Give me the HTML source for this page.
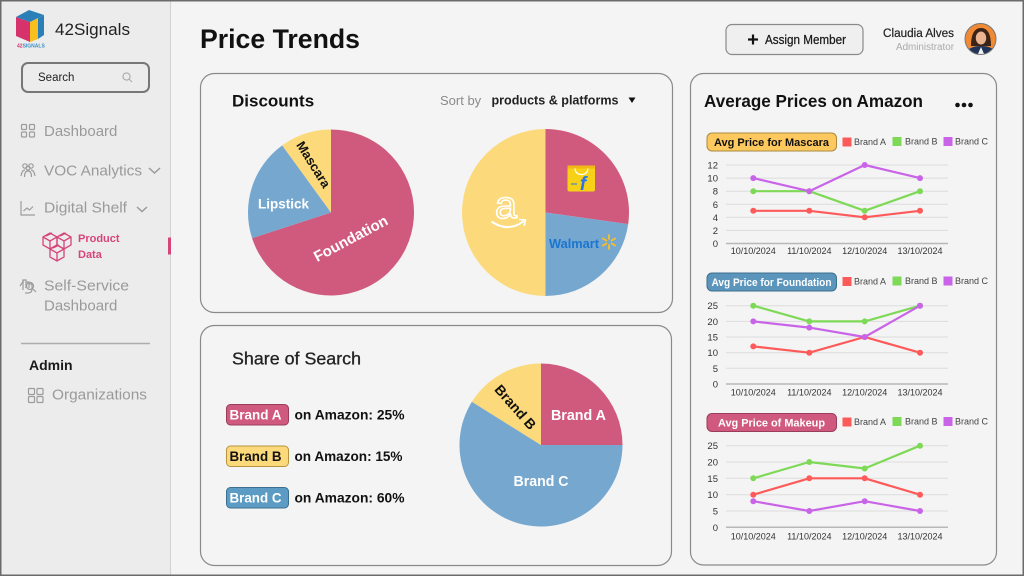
<!DOCTYPE html>
<html><head><meta charset="utf-8"><style>
html,body{margin:0;padding:0;background:#f4f4f4;}
svg{display:block;font-family:"Liberation Sans",sans-serif;}
</style></head><body>
<svg width="1024" height="576" viewBox="0 0 1024 576" xmlns="http://www.w3.org/2000/svg">
<rect x="0" y="0" width="1024" height="576" fill="#f4f4f4"/>
<!-- sidebar -->
<rect x="0" y="0" width="170" height="576" fill="#ececec"/>
<line x1="170.5" y1="0" x2="170.5" y2="576" stroke="#d2d2d2" stroke-width="1"/>
<!-- logo -->
<polygon points="16,17 30,22 30,42 16,36" fill="#d6336c"/>
<polygon points="30,22 38,18 38,39 30,42" fill="#f9bf1e"/>
<polygon points="16,17 29,10 44,15 30,22" fill="#2b7fb8"/>
<polygon points="38,18 44,15 44,35 38,39" fill="#2b7fb8"/>
<text x="17" y="47.5" font-size="5" font-weight="bold" fill="#d6336c">42<tspan fill="#3b8fc6">SIGNALS</tspan></text>
<text x="55" y="35" font-size="17" fill="#222" textLength="75" lengthAdjust="spacingAndGlyphs">42Signals</text>
<!-- search -->
<rect x="22" y="63" width="127" height="29" rx="6" fill="#ececec" stroke="#777" stroke-width="2"/>
<text x="38" y="81" font-size="11.5" fill="#222">Search</text>
<circle cx="126.5" cy="76.5" r="3.6" fill="none" stroke="#aaa" stroke-width="1.1"/>
<line x1="129" y1="79" x2="132" y2="82" stroke="#aaa" stroke-width="1.1"/>
<!-- nav -->
<g fill="none" stroke="#9c9c9c" stroke-width="1.2">
<rect x="21.5" y="124.5" width="5" height="5" rx="1"/><rect x="29.5" y="124.5" width="5" height="5" rx="1"/>
<rect x="21.5" y="132" width="5" height="5" rx="1"/><rect x="29.5" y="132" width="5" height="5" rx="1"/>
<circle cx="25" cy="166" r="2.2"/><circle cx="31" cy="166" r="2.2"/><circle cx="28" cy="168" r="2"/>
<path d="M21,176 q1,-6 4,-6 M35,176 q-1,-6 -4,-6 M24.5,177 q0,-6 3.5,-6 q3.5,0 3.5,6"/>
<path d="M21,201 L21,215 L35,215"/>
<path d="M23.5,211 L27,208 L29.5,210 L33,206.5"/>
<rect x="28.5" y="388.5" width="6" height="6" rx="1"/><rect x="37" y="388.5" width="6" height="6" rx="1"/>
<rect x="28.5" y="396.5" width="6" height="6" rx="1"/><rect x="37" y="396.5" width="6" height="6" rx="1"/>
<path d="M20,286 l4,-6 M23,290 l0,-10 l3,0 l0,8 M26,282 l3,0 l0,6 M29,284 l3,0 l0,5 q0,4 -4,4 l-3,0"/>
<circle cx="30" cy="286" r="3.5"/><line x1="32.5" y1="288.5" x2="36" y2="292"/>
</g>
<text x="44" y="136" font-size="15" fill="#9a9a9a">Dashboard</text>
<text x="44" y="175.5" font-size="15" fill="#9a9a9a" textLength="98" lengthAdjust="spacingAndGlyphs">VOC Analytics</text>
<path d="M149,168 L154.5,173 L160,168" fill="none" stroke="#9a9a9a" stroke-width="1.5"/>
<text x="44" y="212.5" font-size="15" fill="#9a9a9a" textLength="83" lengthAdjust="spacingAndGlyphs">Digital Shelf</text>
<path d="M137,207 L142,211.5 L147,207" fill="none" stroke="#9a9a9a" stroke-width="1.5"/>
<!-- product data icon -->
<g fill="none" stroke="#d6457a" stroke-width="1.3">
<path d="M43,237 l7,-4 l7,4 l0,8 l-7,4 l-7,-4 z M43,237 l7,4 l7,-4 M50,241 l0,8"/>
<path d="M57,237 l7,-4 l7,4 l0,8 l-7,4 l-7,-4 z M57,237 l7,4 l7,-4 M64,241 l0,8"/>
<path d="M50,249 l7,-4 l7,4 l0,8 l-7,4 l-7,-4 z M50,249 l7,4 l7,-4 M57,253 l0,8"/>
<path d="M46,236 l6,-3 M60,236 l6,-3 M53,248 l6,-3"/>
</g>
<text x="78" y="242" font-size="11" font-weight="bold" fill="#d6457a">Product</text>
<text x="78" y="258" font-size="11" font-weight="bold" fill="#d6457a">Data</text>
<rect x="168" y="237.5" width="3" height="17" fill="#d6457a"/>
<text x="44" y="290.5" font-size="15" fill="#9a9a9a" textLength="85" lengthAdjust="spacingAndGlyphs">Self-Service</text>
<text x="44" y="310.5" font-size="15" fill="#9a9a9a">Dashboard</text>
<line x1="21" y1="343.5" x2="150" y2="343.5" stroke="#adadad" stroke-width="1.5"/>
<text x="29" y="370" font-size="14" font-weight="bold" fill="#1a1a1a">Admin</text>
<text x="52" y="399.5" font-size="15" fill="#9a9a9a" textLength="95" lengthAdjust="spacingAndGlyphs">Organizations</text>

<!-- header -->
<text x="200" y="48" font-size="26.5" font-weight="bold" fill="#111" textLength="160" lengthAdjust="spacingAndGlyphs">Price Trends</text>
<rect x="726" y="24.5" width="137" height="30" rx="6" fill="#efefef" stroke="#8a8a8a" stroke-width="1.2"/>
<line x1="748" y1="39.5" x2="758" y2="39.5" stroke="#111" stroke-width="2.2"/>
<line x1="753" y1="34.5" x2="753" y2="44.5" stroke="#111" stroke-width="2.2"/>
<text x="765" y="44" font-size="12.5" fill="#1a1a1a" stroke="#1a1a1a" stroke-width="0.25" textLength="81" lengthAdjust="spacingAndGlyphs">Assign Member</text>
<text x="954" y="37" font-size="11.5" fill="#222" stroke="#222" stroke-width="0.2" text-anchor="end" textLength="71" lengthAdjust="spacingAndGlyphs">Claudia Alves</text>
<text x="954" y="50" font-size="10" fill="#aaa" text-anchor="end" textLength="58" lengthAdjust="spacingAndGlyphs">Administrator</text>
<defs><clipPath id="av"><circle cx="980.5" cy="39" r="15.5"/></clipPath></defs>
<g clip-path="url(#av)">
<rect x="964" y="22" width="34" height="34" fill="#f08a35"/>
<path d="M971,46 q0,-18 10,-18 q10,0 10,18 z" fill="#3a2418"/>
<ellipse cx="981" cy="38" rx="5.2" ry="6.5" fill="#e9b48f"/>
<path d="M965,56 q2,-10 16,-10 q14,0 16,10 z" fill="#1f3558"/>
<path d="M977,56 l4,-9 l4,9 z" fill="#f2f2f2"/>
</g>
<circle cx="980.5" cy="39" r="15.5" fill="none" stroke="#777" stroke-width="1"/>

<!-- Discounts card -->
<rect x="200.5" y="73.5" width="472" height="239" rx="14" fill="#f4f4f4" stroke="#8a8a8a" stroke-width="1.2"/>
<text x="232" y="106.5" font-size="17" font-weight="bold" fill="#111">Discounts</text>
<text x="440" y="105" font-size="13" fill="#8a8a8a">Sort by</text>
<text x="491.5" y="104.5" font-size="13" font-weight="bold" fill="#222" textLength="127" lengthAdjust="spacingAndGlyphs">products &amp; platforms</text>
<polygon points="628.5,97.5 635.5,97.5 632,103" fill="#111"/>
<!-- pie 1 -->
<path d="M331,212.5 L331,129.5 A83,83 0 1 1 252.06,238.15 Z" fill="#d05a7e"/>
<path d="M331,212.5 L252.06,238.15 A83,83 0 0 1 282.21,145.35 Z" fill="#76a7cf"/>
<path d="M331,212.5 L282.21,145.35 A83,83 0 0 1 331,129.5 Z" fill="#fcd97a"/>
<text x="258" y="208.5" font-size="13.5" font-weight="bold" fill="#fff" textLength="51" lengthAdjust="spacingAndGlyphs">Lipstick</text>
<text x="0" y="0" font-size="15" font-weight="bold" fill="#fff" text-anchor="middle" dominant-baseline="central" transform="translate(351,239) rotate(-28)">Foundation</text>
<text x="0" y="0" font-size="13" font-weight="bold" fill="#111" text-anchor="middle" dominant-baseline="central" transform="translate(313.5,164.5) rotate(58)">Mascara</text>
<!-- pie 2 -->
<path d="M545.5,212.5 L545.5,129 A83.5,83.5 0 0 1 628.19,224.12 Z" fill="#d05a7e"/>
<path d="M545.5,212.5 L628.19,224.12 A83.5,83.5 0 0 1 545.5,296 Z" fill="#76a7cf"/>
<path d="M545.5,212.5 L545.5,296 A83.5,83.5 0 0 1 545.5,129 Z" fill="#fcd97a"/>
<text x="506" y="218" font-size="38" fill="none" stroke="#fff" stroke-width="1.6" text-anchor="middle" textLength="22" lengthAdjust="spacingAndGlyphs">a</text>
<path d="M491.5,221.5 Q508,233 524,221" fill="none" stroke="#fff" stroke-width="2"/>
<path d="M519,219.5 L525.5,220 L524,226" fill="none" stroke="#fff" stroke-width="1.6"/>
<!-- flipkart -->
<rect x="567.5" y="167.5" width="27.5" height="24" rx="2" fill="#f7d118"/>
<path d="M575,167.5 q0,7 6.5,7 q6.5,0 6.5,-7" fill="none" stroke="#fff" stroke-width="1.2"/>
<rect x="567.5" y="165.5" width="27.5" height="3" fill="#f0b914"/>
<text x="583" y="190" font-size="19" font-weight="bold" font-style="italic" fill="#2874f0" text-anchor="middle">f</text>
<line x1="571" y1="184" x2="577" y2="184" stroke="#2874f0" stroke-width="1"/>
<!-- walmart -->
<text x="549" y="248" font-size="13" font-weight="bold" fill="#1a75cf" textLength="50" lengthAdjust="spacingAndGlyphs">Walmart</text>
<g stroke="#fbbf24" stroke-width="1.8" stroke-linecap="round">
<line x1="609" y1="239" x2="609" y2="235"/><line x1="609" y1="245" x2="609" y2="249"/>
<line x1="606.4" y1="240.5" x2="602.9" y2="238.5"/><line x1="611.6" y1="240.5" x2="615.1" y2="238.5"/>
<line x1="606.4" y1="243.5" x2="602.9" y2="245.5"/><line x1="611.6" y1="243.5" x2="615.1" y2="245.5"/>
</g>

<!-- Share of Search card -->
<rect x="200.5" y="325.5" width="471" height="240" rx="14" fill="#f4f4f4" stroke="#8a8a8a" stroke-width="1.2"/>
<text x="232" y="364.5" font-size="17.5" fill="#222" stroke="#222" stroke-width="0.3" textLength="129" lengthAdjust="spacingAndGlyphs">Share of Search</text>
<rect x="226.5" y="404.5" width="62" height="20.5" rx="4" fill="#d0597f" stroke="#9a3d5c" stroke-width="1"/>
<text x="229.5" y="419.5" font-size="13.5" font-weight="bold" fill="#fff" textLength="52" lengthAdjust="spacingAndGlyphs">Brand A</text>
<text x="294.5" y="419.5" font-size="14" font-weight="bold" fill="#111" textLength="110" lengthAdjust="spacingAndGlyphs">on Amazon: 25%</text>
<rect x="226.5" y="446" width="62" height="20.5" rx="4" fill="#fcd97a" stroke="#b59440" stroke-width="1"/>
<text x="229.5" y="461" font-size="13.5" font-weight="bold" fill="#111" textLength="52" lengthAdjust="spacingAndGlyphs">Brand B</text>
<text x="294.5" y="461" font-size="14" font-weight="bold" fill="#111" textLength="108" lengthAdjust="spacingAndGlyphs">on Amazon: 15%</text>
<rect x="226.5" y="487.5" width="62" height="20.5" rx="4" fill="#5c9bc3" stroke="#3c6f8f" stroke-width="1"/>
<text x="229.5" y="502.5" font-size="13.5" font-weight="bold" fill="#fff" textLength="52" lengthAdjust="spacingAndGlyphs">Brand C</text>
<text x="294.5" y="502.5" font-size="14" font-weight="bold" fill="#111" textLength="110" lengthAdjust="spacingAndGlyphs">on Amazon: 60%</text>
<!-- pie 3 -->
<path d="M541,445 L541,363.5 A81.5,81.5 0 0 1 622.5,445 Z" fill="#d05a7e"/>
<path d="M541,445 L622.5,445 A81.5,81.5 0 1 1 471.89,401.81 Z" fill="#76a7cf"/>
<path d="M541,445 L471.89,401.81 A81.5,81.5 0 0 1 541,363.5 Z" fill="#fcd97a"/>
<text x="578.5" y="416" font-size="14.5" font-weight="bold" fill="#fff" text-anchor="middle" dominant-baseline="central" textLength="55" lengthAdjust="spacingAndGlyphs">Brand A</text>
<text x="541" y="482" font-size="14.5" font-weight="bold" fill="#fff" text-anchor="middle" dominant-baseline="central" textLength="55" lengthAdjust="spacingAndGlyphs">Brand C</text>
<text x="0" y="0" font-size="14" font-weight="bold" fill="#111" text-anchor="middle" dominant-baseline="central" transform="translate(515.5,407) rotate(48.5)">Brand B</text>

<!-- Right card -->
<rect x="690.5" y="73.5" width="306" height="491.5" rx="13" fill="#f4f4f4" stroke="#8a8a8a" stroke-width="1.2"/>
<text x="704" y="107" font-size="17.5" font-weight="bold" fill="#111" textLength="219" lengthAdjust="spacingAndGlyphs">Average Prices on Amazon</text>
<circle cx="957.5" cy="105" r="2.3" fill="#111"/><circle cx="964" cy="105" r="2.3" fill="#111"/><circle cx="970.5" cy="105" r="2.3" fill="#111"/>

<g font-size="9" fill="#444">
<rect x="842.5" y="137.5" width="9" height="9" fill="#ff5a5a"/><text x="854" y="145">Brand A</text>
<rect x="892.5" y="137" width="9" height="9" fill="#7ed957"/><text x="905" y="144.5">Brand B</text>
<rect x="943.5" y="137" width="9" height="9" fill="#c964e8"/><text x="955" y="144.5">Brand C</text>
<rect x="842.5" y="277" width="9" height="9" fill="#ff5a5a"/><text x="854" y="284.5">Brand A</text>
<rect x="892.5" y="276.5" width="9" height="9" fill="#7ed957"/><text x="905" y="284">Brand B</text>
<rect x="943.5" y="276.5" width="9" height="9" fill="#c964e8"/><text x="955" y="284">Brand C</text>
<rect x="842.5" y="417.5" width="9" height="9" fill="#ff5a5a"/><text x="854" y="425">Brand A</text>
<rect x="892.5" y="417" width="9" height="9" fill="#7ed957"/><text x="905" y="424.5">Brand B</text>
<rect x="943.5" y="417" width="9" height="9" fill="#c964e8"/><text x="955" y="424.5">Brand C</text>
</g>
<!-- badges -->
<rect x="707" y="133" width="129.5" height="18" rx="5" fill="#fdc95e" stroke="#a88a40" stroke-width="1"/>
<text x="771.5" y="146" font-size="11" font-weight="bold" fill="#111" text-anchor="middle" textLength="115" lengthAdjust="spacingAndGlyphs">Avg Price for Mascara</text>
<rect x="707" y="273" width="129.5" height="18" rx="5" fill="#5b95bb" stroke="#3c6f8f" stroke-width="1"/>
<text x="771.5" y="286" font-size="11" font-weight="bold" fill="#fff" text-anchor="middle" textLength="120" lengthAdjust="spacingAndGlyphs">Avg Price for Foundation</text>
<rect x="707" y="413.5" width="129.5" height="18" rx="5" fill="#d05a7f" stroke="#9a3d5c" stroke-width="1"/>
<text x="771.5" y="426.5" font-size="11" font-weight="bold" fill="#fff" text-anchor="middle" textLength="107" lengthAdjust="spacingAndGlyphs">Avg Price of Makeup</text>

<!-- gridlines -->
<g stroke="#dcdcdc" stroke-width="1">
<line x1="726" y1="165" x2="948" y2="165"/><line x1="726" y1="178.1" x2="948" y2="178.1"/><line x1="726" y1="191.2" x2="948" y2="191.2"/><line x1="726" y1="204.3" x2="948" y2="204.3"/><line x1="726" y1="217.3" x2="948" y2="217.3"/><line x1="726" y1="230.4" x2="948" y2="230.4"/>
<line x1="726" y1="305.7" x2="948" y2="305.7"/><line x1="726" y1="321.4" x2="948" y2="321.4"/><line x1="726" y1="337" x2="948" y2="337"/><line x1="726" y1="352.7" x2="948" y2="352.7"/><line x1="726" y1="368.3" x2="948" y2="368.3"/>
<line x1="726" y1="445.7" x2="948" y2="445.7"/><line x1="726" y1="462" x2="948" y2="462"/><line x1="726" y1="478.3" x2="948" y2="478.3"/><line x1="726" y1="494.7" x2="948" y2="494.7"/><line x1="726" y1="511" x2="948" y2="511"/>
</g>
<g stroke="#b8b8b8" stroke-width="1.5">
<line x1="726" y1="243.5" x2="948" y2="243.5"/><line x1="726" y1="384" x2="948" y2="384"/><line x1="726" y1="527.3" x2="948" y2="527.3"/>
</g>
<!-- y labels -->
<g font-size="9.5" fill="#333" text-anchor="end">
<text x="718" y="168.5">12</text><text x="718" y="181.6">10</text><text x="718" y="194.7">8</text><text x="718" y="207.8">6</text><text x="718" y="220.8">4</text><text x="718" y="233.9">2</text><text x="718" y="247">0</text>
<text x="718" y="309.2">25</text><text x="718" y="324.9">20</text><text x="718" y="340.5">15</text><text x="718" y="356.2">10</text><text x="718" y="371.8">5</text><text x="718" y="387.5">0</text>
<text x="718" y="449.2">25</text><text x="718" y="465.5">20</text><text x="718" y="481.8">15</text><text x="718" y="498.2">10</text><text x="718" y="514.5">5</text><text x="718" y="530.8">0</text>
</g>
<!-- x labels -->
<g font-size="9" fill="#333" text-anchor="middle">
<text x="753.3" y="254">10/10/2024</text><text x="809.3" y="254">11/10/2024</text><text x="864.7" y="254">12/10/2024</text><text x="920" y="254">13/10/2024</text>
<text x="753.3" y="395.5">10/10/2024</text><text x="809.3" y="395.5">11/10/2024</text><text x="864.7" y="395.5">12/10/2024</text><text x="920" y="395.5">13/10/2024</text>
<text x="753.3" y="539.5">10/10/2024</text><text x="809.3" y="539.5">11/10/2024</text><text x="864.7" y="539.5">12/10/2024</text><text x="920" y="539.5">13/10/2024</text>
</g>
<!-- series -->
<g fill="none" stroke-width="2.2" stroke-linejoin="round">
<polyline stroke="#ff5a5a" points="753.3,210.8 809.3,210.8 864.7,217.3 920,210.8"/>
<polyline stroke="#7ed957" points="753.3,191.2 809.3,191.2 864.7,210.8 920,191.2"/>
<polyline stroke="#c964e8" points="753.3,178.1 809.3,191.2 864.7,165 920,178.1"/>
<polyline stroke="#ff5a5a" points="753.3,346.4 809.3,352.7 864.7,337 920,352.7"/>
<polyline stroke="#7ed957" points="753.3,305.7 809.3,321.4 864.7,321.4 920,305.7"/>
<polyline stroke="#c964e8" points="753.3,321.4 809.3,327.6 864.7,337 920,305.7"/>
<polyline stroke="#ff5a5a" points="753.3,494.7 809.3,478.3 864.7,478.3 920,494.7"/>
<polyline stroke="#7ed957" points="753.3,478.3 809.3,462 864.7,468.5 920,445.7"/>
<polyline stroke="#c964e8" points="753.3,501.2 809.3,511 864.7,501.2 920,511"/>
</g>
<g fill="#ff5a5a">
<circle cx="753.3" cy="210.8" r="3"/><circle cx="809.3" cy="210.8" r="3"/><circle cx="864.7" cy="217.3" r="3"/><circle cx="920" cy="210.8" r="3"/>
<circle cx="753.3" cy="346.4" r="3"/><circle cx="809.3" cy="352.7" r="3"/><circle cx="864.7" cy="337" r="3"/><circle cx="920" cy="352.7" r="3"/>
<circle cx="753.3" cy="494.7" r="3"/><circle cx="809.3" cy="478.3" r="3"/><circle cx="864.7" cy="478.3" r="3"/><circle cx="920" cy="494.7" r="3"/>
</g>
<g fill="#7ed957">
<circle cx="753.3" cy="191.2" r="3"/><circle cx="809.3" cy="191.2" r="3"/><circle cx="864.7" cy="210.8" r="3"/><circle cx="920" cy="191.2" r="3"/>
<circle cx="753.3" cy="305.7" r="3"/><circle cx="809.3" cy="321.4" r="3"/><circle cx="864.7" cy="321.4" r="3"/><circle cx="920" cy="305.7" r="3"/>
<circle cx="753.3" cy="478.3" r="3"/><circle cx="809.3" cy="462" r="3"/><circle cx="864.7" cy="468.5" r="3"/><circle cx="920" cy="445.7" r="3"/>
</g>
<g fill="#c964e8">
<circle cx="753.3" cy="178.1" r="3"/><circle cx="809.3" cy="191.2" r="3"/><circle cx="864.7" cy="165" r="3"/><circle cx="920" cy="178.1" r="3"/>
<circle cx="753.3" cy="321.4" r="3"/><circle cx="809.3" cy="327.6" r="3"/><circle cx="864.7" cy="337" r="3"/><circle cx="920" cy="305.7" r="3"/>
<circle cx="753.3" cy="501.2" r="3"/><circle cx="809.3" cy="511" r="3"/><circle cx="864.7" cy="501.2" r="3"/><circle cx="920" cy="511" r="3"/>
</g>

<!-- outer frame -->
<rect x="0.75" y="0.75" width="1022.5" height="574.5" fill="none" stroke="#6b6b6b" stroke-width="1.5"/>
</svg>
</body></html>
